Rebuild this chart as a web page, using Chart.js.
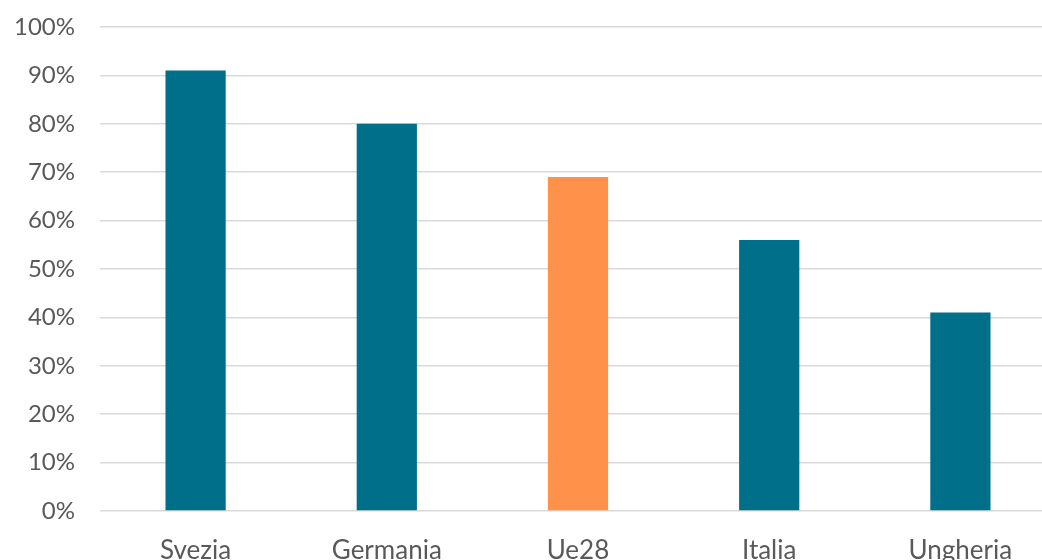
<!DOCTYPE html>
<html>
<head>
<meta charset="utf-8">
<script src="https://cdn.jsdelivr.net/npm/chart.js@4"></script>
<style>
  html, body { margin: 0; padding: 0; background: #fff; overflow: hidden; }
  #wrap { width: 1056px; height: 580px; }
</style>
</head>
<body>
<div id="wrap"><canvas id="chart" width="1056" height="580"></canvas></div>
<script>
// Data
const categories = ['Svezia', 'Germania', 'Ue28', 'Italia', 'Ungheria'];
const values = [91, 80, 69, 56, 41];
const barColors = ['#006F89', '#006F89', '#FF914A', '#006F89', '#006F89'];
const yTicks = [0, 10, 20, 30, 40, 50, 60, 70, 80, 90, 100];

const textColor = '#595959';
const fontFamily = 'Lato, "Open Sans", sans-serif';

new Chart(document.getElementById('chart'), {
  type: 'bar',
  data: {
    labels: categories,
    datasets: [{
      data: values,
      backgroundColor: barColors,
      barPercentage: 0.315,
      categoryPercentage: 1
    }]
  },
  options: {
    responsive: false,
    animation: false,
    layout: { padding: { top: 27, left: 0, right: 0, bottom: 0 } },
    plugins: { legend: { display: false }, tooltip: { enabled: false } },
    scales: {
      x: {
        grid: { display: false },
        border: { display: false },
        ticks: { color: textColor, font: { family: fontFamily, size: 26 }, padding: 16, maxRotation: 0 },
        afterFit: s => { s.height = 69; s.paddingLeft = 0; s.paddingRight = 0; }
      },
      y: {
        min: 0,
        max: 100,
        afterBuildTicks: s => { s.ticks = yTicks.map(v => ({ value: v })); },
        grid: { color: '#d9d9d9', lineWidth: 1.5, drawTicks: false },
        border: { display: false },
        ticks: {
          color: textColor,
          font: { family: fontFamily, size: 24 },
          padding: 25,
          callback: v => v + '%'
        },
        afterFit: s => { s.width = 100; s.paddingTop = 0; s.paddingBottom = 0; }
      }
    }
  }
});
</script>
</body>
</html>
